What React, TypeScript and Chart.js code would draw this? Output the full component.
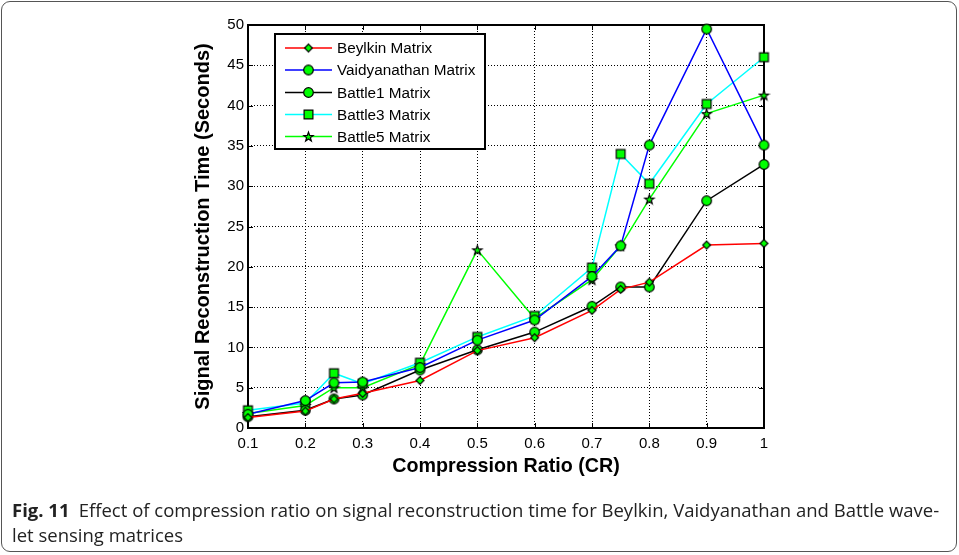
import React, { useEffect, useRef } from 'react';
import { Chart, registerables } from 'chart.js';

Chart.register(...registerables);

// ---- Data ----
const crValues = [0.1, 0.2, 0.25, 0.3, 0.4, 0.5, 0.6, 0.7, 0.75, 0.8, 0.9, 1];
const beylkin = [1.3, 2.1, 3.6, 4.3, 5.9, 9.6, 11.2, 14.6, 17.2, 18.1, 22.7, 22.9];
const vaidyanathan = [1.7, 3.4, 5.6, 5.7, 7.5, 10.9, 13.4, 18.8, 22.6, 35.1, 49.5, 35.1];
const battle1 = [1.4, 2.2, 3.6, 4.1, 7.2, 9.7, 11.9, 15.1, 17.5, 17.5, 28.2, 32.7];
const battle3 = [2.2, 3.1, 6.8, 5.5, 8.1, 11.3, 13.9, 19.9, 34.0, 30.3, 40.2, 46.0];
const battle5 = [1.8, 2.8, 5.0, 5.0, 7.9, 22.1, 13.6, 18.4, 22.6, 28.4, 39.0, 41.3];

const seriesNames = ['Beylkin Matrix', 'Vaidyanathan Matrix', 'Battle1 Matrix', 'Battle3 Matrix', 'Battle5 Matrix'];
const xTicks = [0.1, 0.2, 0.3, 0.4, 0.5, 0.6, 0.7, 0.8, 0.9, 1];
const xTickLabels = ['0.1', '0.2', '0.3', '0.4', '0.5', '0.6', '0.7', '0.8', '0.9', '1'];
const yTicks = [0, 5, 10, 15, 20, 25, 30, 35, 40, 45, 50];

const xTitle = 'Compression Ratio (CR)';
const yTitle = 'Signal Reconstruction Time (Seconds)';

const FONT = "'Liberation Sans', Arial, sans-serif";

type MarkerKind = 'diamond' | 'circle' | 'square' | 'star';

function makeMarker(kind: MarkerKind): HTMLCanvasElement {
  const size = 13;
  const c = document.createElement('canvas');
  c.width = size;
  c.height = size;
  const ctx = c.getContext('2d')!;
  const cx = size / 2;
  const cy = size / 2;
  ctx.fillStyle = '#00ff00';
  ctx.strokeStyle = '#000000';
  ctx.lineWidth = 1.2;
  ctx.beginPath();
  if (kind === 'diamond') {
    const r = 3.9;
    ctx.moveTo(cx, cy - r);
    ctx.lineTo(cx + r, cy);
    ctx.lineTo(cx, cy + r);
    ctx.lineTo(cx - r, cy);
    ctx.closePath();
  } else if (kind === 'circle') {
    ctx.arc(cx, cy, 4.8, 0, Math.PI * 2);
  } else if (kind === 'square') {
    const h = 4.4;
    ctx.rect(cx - h, cy - h, 2 * h, 2 * h);
  } else {
    const ro = 4.9;
    const ri = 2.0;
    for (let i = 0; i < 10; i++) {
      const r = i % 2 === 0 ? ro : ri;
      const a = -Math.PI / 2 + (i * Math.PI) / 5;
      const px = cx + r * Math.cos(a);
      const py = cy + 0.5 + r * Math.sin(a);
      if (i === 0) ctx.moveTo(px, py);
      else ctx.lineTo(px, py);
    }
    ctx.closePath();
  }
  ctx.fill();
  ctx.stroke();
  return c;
}

export default function App() {
  const canvasRef = useRef<HTMLCanvasElement | null>(null);

  useEffect(() => {
    const canvas = canvasRef.current;
    if (!canvas) return;

    const markers = [
      makeMarker('diamond'),
      makeMarker('circle'),
      makeMarker('circle'),
      makeMarker('square'),
      makeMarker('star'),
    ];
    const colors = ['#ff0000', '#0000ff', '#000000', '#00ffff', '#00ff00'];
    const allSeries = [beylkin, vaidyanathan, battle1, battle3, battle5];

    const datasets = allSeries.map((vals, i) => ({
      label: seriesNames[i],
      data: crValues.map((x, j) => ({ x, y: vals[j] })),
      borderColor: colors[i],
      backgroundColor: colors[i],
      borderWidth: 1.5,
      pointStyle: markers[i] as any,
      pointRadius: 5,
      tension: 0,
      clip: false as any,
    }));

    const framePlugin = {
      id: 'frame',
      beforeDatasetsDraw(chart: any) {
        const { ctx, chartArea } = chart;
        const { left, right, top, bottom } = chartArea;
        ctx.save();
        ctx.strokeStyle = '#000';
        ctx.lineWidth = 1;
        const xs = chart.scales.x;
        const ys = chart.scales.y;
        ctx.beginPath();
        xTicks.forEach((v) => {
          const px = Math.round(xs.getPixelForValue(v)) + 0.5;
          ctx.moveTo(px, bottom);
          ctx.lineTo(px, bottom - 5);
          ctx.moveTo(px, top);
          ctx.lineTo(px, top + 5);
        });
        yTicks.forEach((v) => {
          const py = Math.round(ys.getPixelForValue(v)) + 0.5;
          ctx.moveTo(left, py);
          ctx.lineTo(left + 5, py);
          ctx.moveTo(right, py);
          ctx.lineTo(right - 5, py);
        });
        ctx.stroke();
        ctx.lineWidth = 2;
        ctx.strokeRect(left, top, right - left, bottom - top);
        ctx.restore();
      },
    };

    const legendPlugin = {
      id: 'insideLegend',
      afterDraw(chart: any) {
        const { ctx } = chart;
        const bx = 275;
        const by = 34;
        const bw = 210;
        const bh = 115;
        ctx.save();
        ctx.fillStyle = '#fff';
        ctx.fillRect(bx, by, bw, bh);
        ctx.strokeStyle = '#000';
        ctx.lineWidth = 2;
        ctx.strokeRect(bx, by, bw, bh);
        ctx.font = `15.3px ${FONT}`;
        ctx.textBaseline = 'middle';
        ctx.textAlign = 'left';
        const rowY = [48, 70, 92.5, 114.5, 136.5];
        seriesNames.forEach((name, i) => {
          const y = rowY[i];
          ctx.strokeStyle = colors[i];
          ctx.lineWidth = 1.5;
          ctx.beginPath();
          ctx.moveTo(285, y);
          ctx.lineTo(332, y);
          ctx.stroke();
          const m = markers[i];
          ctx.drawImage(m, 308.5 - m.width / 2, y - m.height / 2);
          ctx.fillStyle = '#000';
          ctx.fillText(name, 337, y + 1);
        });
        ctx.restore();
      },
    };

    const chart = new Chart(canvas, {
      type: 'line',
      data: { datasets: datasets as any },
      options: {
        animation: false,
        responsive: false,
        maintainAspectRatio: false,
        layout: { padding: { left: 188, right: 195, top: 25, bottom: 0 } },
        plugins: {
          legend: { display: false },
          tooltip: { enabled: false },
        },
        scales: {
          x: {
            type: 'linear',
            min: 0.1,
            max: 1,
            afterBuildTicks: (s: any) => {
              s.ticks = xTicks.map((v) => ({ value: v }));
            },
            afterFit: (s: any) => {
              s.height = 54;
            },
            ticks: {
              autoSkip: false,
              maxRotation: 0,
              padding: 7,
              color: '#000',
              font: { family: FONT, size: 15 },
              callback: (v: any) => {
                const idx = xTicks.findIndex((t) => Math.abs(t - Number(v)) < 1e-9);
                return idx >= 0 ? xTickLabels[idx] : '';
              },
            },
            grid: { color: '#000', lineWidth: 1, drawTicks: false },
            border: { display: false, dash: [1, 2] },
            title: {
              display: true,
              text: xTitle,
              color: '#000',
              font: { family: FONT, size: 19.7, weight: 'bold' },
              padding: 4,
            },
          },
          y: {
            type: 'linear',
            min: 0,
            max: 50,
            afterBuildTicks: (s: any) => {
              s.ticks = yTicks.map((v) => ({ value: v }));
            },
            afterFit: (s: any) => {
              s.width = 60;
            },
            ticks: {
              autoSkip: false,
              padding: 4,
              color: '#000',
              font: { family: FONT, size: 15 },
              callback: (v: any) => String(v),
            },
            grid: { color: '#000', lineWidth: 1, drawTicks: false },
            border: { display: false, dash: [1, 2] },
            title: {
              display: true,
              text: yTitle,
              color: '#000',
              font: { family: FONT, size: 20, weight: 'bold' },
              padding: 3,
            },
          },
        },
      },
      plugins: [framePlugin, legendPlugin],
    });

    return () => {
      chart.destroy();
    };
  }, []);

  return (
    <div style={{ position: 'fixed', left: 0, top: 0, width: 959, height: 555, background: '#fff' }}>
      <canvas
        ref={canvasRef}
        width={959}
        height={482}
        style={{ position: 'absolute', left: 0, top: 0, width: 959, height: 482 }}
      />
      <div
        style={{
          position: 'absolute',
          left: 1,
          top: 1,
          width: 954,
          height: 549,
          border: '1.5px solid #555',
          borderRadius: 9,
          pointerEvents: 'none',
        }}
      />
      <div
        style={{
          position: 'absolute',
          left: 12,
          top: 497,
          width: 940,
          fontFamily: "'Open Sans', sans-serif",
          fontSize: 18.5,
          lineHeight: '25px',
          color: '#222',
          whiteSpace: 'nowrap',
        }}
      >
        <div>
          <b>Fig. 11</b>
          {'\u2002Effect of compression ratio on signal reconstruction time for Beylkin, Vaidyanathan and Battle wave-'}
        </div>
        <div>let sensing matrices</div>
      </div>
    </div>
  );
}
